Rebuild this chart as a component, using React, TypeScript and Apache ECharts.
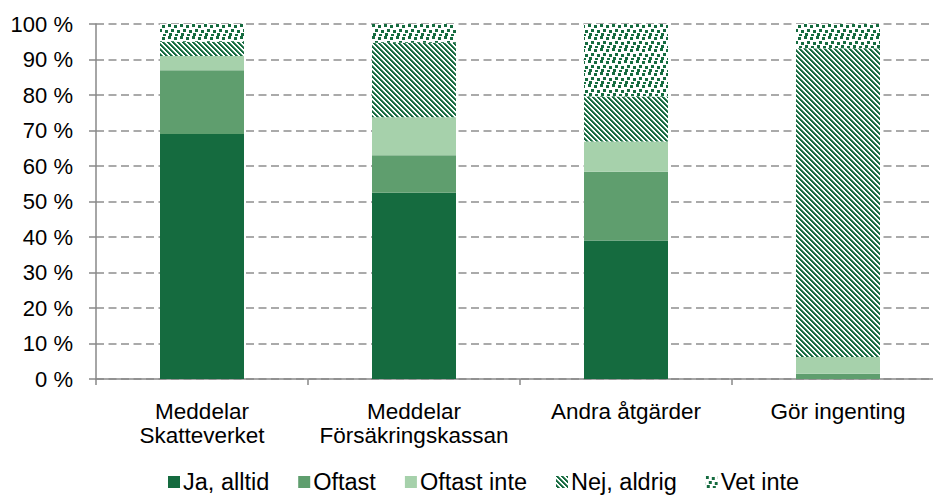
import React, { useEffect, useRef } from "react";
import * as echarts from "echarts";

const categories = ["Meddelar\nSkatteverket", "Meddelar\nFörsäkringskassan", "Andra åtgärder", "Gör ingenting"];
const jaAlltid = [69, 52.5, 39, 0];
const oftast = [18, 10.5, 19.4, 1.5];
const oftastInte = [4, 10.7, 8.5, 4.7];
const nejAldrig = [4, 21, 12.7, 87];
const vetInte = [5, 5.3, 20.4, 6.8];
const seriesNames = ["Ja, alltid", "Oftast", "Oftast inte", "Nej, aldrig", "Vet inte"];

const DARK = "#156b3f";
const MID = "#5f9e6e";
const LIGHT = "#a6d1ab";

function stripePattern() {
  const n = 5;
  const c = document.createElement("canvas");
  c.width = n;
  c.height = n;
  const ctx = c.getContext("2d")!;
  ctx.fillStyle = "#ffffff";
  ctx.fillRect(0, 0, n, n);
  for (let y = 0; y < n; y++) {
    for (let x = 0; x < n; x++) {
      const m = (((x - y) % n) + n) % n;
      if (m === 0 || m === 1) {
        ctx.fillStyle = DARK;
        ctx.fillRect(x, y, 1, 1);
      } else if (m === 2) {
        ctx.fillStyle = "rgba(21,107,63,0.7)";
        ctx.fillRect(x, y, 1, 1);
      }
    }
  }
  return { image: c.toDataURL(), imageWidth: n, imageHeight: n, repeat: "repeat" };
}

function confettiPattern() {
  const n = 12;
  const c = document.createElement("canvas");
  c.width = n;
  c.height = n;
  const ctx = c.getContext("2d")!;
  ctx.fillStyle = "#ffffff";
  ctx.fillRect(0, 0, n, n);
  ctx.fillStyle = DARK;
  const squares = [
    [0, 0], [6, 1], [3, 5], [9, 6], [1, 9], [7, 10],
  ];
  for (const [x, y] of squares) ctx.fillRect(x, y, 3, 3);
  return { image: c.toDataURL(), imageWidth: n, imageHeight: n, repeat: "repeat" };
}

export default function App() {
  const ref = useRef<HTMLDivElement>(null);
  useEffect(() => {
    if (!ref.current) return;
    const chart = echarts.init(ref.current, undefined, { renderer: "svg" });
    const font = "Arial, 'Liberation Sans', sans-serif";
    const colors: any[] = [DARK, MID, LIGHT, stripePattern(), confettiPattern()];
    const data = [jaAlltid, oftast, oftastInte, nejAldrig, vetInte];
    chart.setOption({
      animation: false,
      backgroundColor: "#ffffff",
      textStyle: { fontFamily: font },
      grid: { left: 96, right: 0, top: 24, bottom: 118, containLabel: false },
      legend: {
        top: 465,
        left: 163,
        itemWidth: 12,
        itemHeight: 12,
        itemGap: 29,
        icon: "rect",
        textStyle: { fontSize: 23.5, color: "#000", fontFamily: font, padding: [0, 0, 0, -2] },
        data: seriesNames,
      },
      xAxis: {
        type: "category",
        data: categories,
        axisLine: { lineStyle: { color: "#898989", width: 1.5 } },
        axisTick: { show: true, length: 6, lineStyle: { color: "#898989", width: 1.5 } },
        axisLabel: { fontSize: 22.5, color: "#000", margin: 20, lineHeight: 24, fontFamily: font, interval: 0 },
      },
      yAxis: {
        type: "value",
        min: 0,
        max: 100,
        interval: 10,
        axisLine: { show: true, lineStyle: { color: "#898989", width: 1.5 } },
        axisTick: { show: true, length: 7, lineStyle: { color: "#898989", width: 1.5 } },
        axisLabel: { fontSize: 22, color: "#000", margin: 23, formatter: "{value} %", fontFamily: font },
        splitLine: { show: true, lineStyle: { color: "#8f8f8f", width: 1.5, type: [8, 4.5] } },
      },
      series: seriesNames.map((name, i) => ({
        name,
        type: "bar",
        stack: "total",
        barWidth: 84,
        data: data[i],
        itemStyle: { color: colors[i] },
      })),
    });
    return () => chart.dispose();
  }, []);
  return (
    <div style={{ position: "absolute", left: 0, top: 0, width: 933, height: 497, overflow: "hidden", background: "#fff" }}>
      <div ref={ref} style={{ width: 944, height: 497 }} />
    </div>
  );
}
